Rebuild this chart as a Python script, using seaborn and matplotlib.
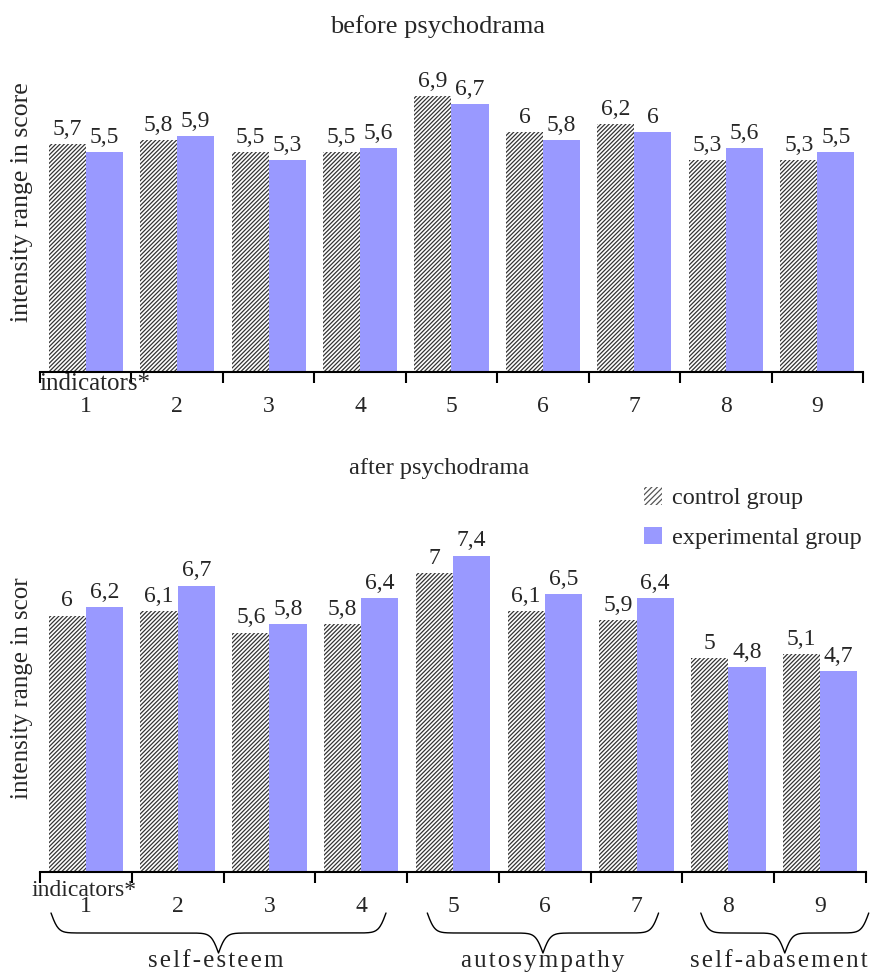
import numpy as np
import pandas as pd
import matplotlib
matplotlib.use("Agg")
import matplotlib.pyplot as plt
import matplotlib.patches as mpatches
from matplotlib.transforms import blended_transform_factory
import seaborn as sns

# data
indicators = ["1", "2", "3", "4", "5", "6", "7", "8", "9"]
groups = ["control group", "experimental group"]
before_control = [5.7, 5.8, 5.5, 5.5, 6.9, 6.0, 6.2, 5.3, 5.3]
before_experimental = [5.5, 5.9, 5.3, 5.6, 6.7, 5.8, 6.0, 5.6, 5.5]
after_control = [6.0, 6.1, 5.6, 5.8, 7.0, 6.1, 5.9, 5.0, 5.1]
after_experimental = [6.2, 6.7, 5.8, 6.4, 7.4, 6.5, 6.4, 4.8, 4.7]
scale_names = ["self-esteem", "autosympathy", "self-abasement"]

BLUE = "#9999ff"
HATCH = "////////"
W, H = 873, 973

sns.set_style("white")
plt.rcParams["font.family"] = ["Liberation Serif", "DejaVu Serif"]
plt.rcParams["hatch.linewidth"] = 0.9
plt.rcParams["hatch.color"] = "#333333"


def px(x, y):
    """pixel position -> figure fraction"""
    return x / W, 1 - y / H


def fmt(v):
    return f"{v:g}".replace(".", ",")


def draw_bars(ax, control, experimental, ylim):
    df = pd.DataFrame({
        "indicator": indicators * 2,
        "score": control + experimental,
        "group": [groups[0]] * 9 + [groups[1]] * 9,
    })
    sns.barplot(data=df, x="indicator", y="score", hue="group", order=indicators,
                hue_order=groups, palette=["white", BLUE], saturation=1,
                width=0.81, legend=False, ax=ax)
    for bar in ax.containers[0]:
        bar.set_hatch(HATCH)
        bar.set_edgecolor("#333333")
        bar.set_linewidth(0)
    for bar in ax.containers[1]:
        bar.set_linewidth(0)
    ax.bar_label(ax.containers[0], labels=[fmt(v) for v in control], padding=3, fontsize=17)
    ax.bar_label(ax.containers[1], labels=[fmt(v) for v in experimental], padding=3, fontsize=17)

    ax.set_xlim(-0.5, 8.5)
    ax.set_ylim(*ylim)
    ax.set_yticks([])
    ax.set_xlabel("")
    ax.set_ylabel("")
    for side in ["left", "right", "top"]:
        ax.spines[side].set_visible(False)
    ax.spines["bottom"].set_linewidth(1.5)
    ax.spines["bottom"].set_color("black")
    ax.set_xticks(range(9))
    ax.set_xticklabels(indicators, fontsize=17)
    ax.set_xticks(np.arange(-0.5, 9.0, 1.0), minor=True)
    ax.tick_params(axis="x", which="major", length=0, pad=17)
    ax.tick_params(axis="x", which="minor", length=8, width=1.5, direction="out",
                   color="black", bottom=True)


def draw_brace(ax, x0, x1, label, xtext):
    trans = blended_transform_factory(ax.transData, ax.figure.transFigure)
    n = 401
    beta = 25.0
    x = np.linspace(x0, x1, n)
    half = x[: n // 2 + 1]
    yh = 1 / (1 + np.exp(-beta * (half - half[0]))) + 1 / (1 + np.exp(-beta * (half - half[-1])))
    yb = np.concatenate((yh, yh[-2::-1]))
    ypix = 913 + (yb - 0.5) * 40
    ax.plot(x, 1 - ypix / H, color="black", lw=1.0, transform=trans, clip_on=False)
    ax.text(xtext, 1 - 961 / H, "\u200a".join(label), ha="center", va="center",
            fontsize=18, transform=trans)


fig = plt.figure(figsize=(W / 100, H / 100), dpi=100)

ax1 = fig.add_axes([40 / W, 1 - 372 / H, 823 / W, 320 / H])
draw_bars(ax1, before_control, before_experimental, (0, 8))

ax2 = fig.add_axes([40 / W, 1 - 872 / H, 826 / W, 342 / H])
draw_bars(ax2, after_control, after_experimental, (0, 8))

fig.text(*px(438, 27), "before psychodrama", ha="center", va="center", fontsize=19)
fig.text(*px(439, 468), "after psychodrama", ha="center", va="center", fontsize=17.5)

fig.text(*px(22, 202), "intensity range in score", rotation=90,
         ha="center", va="center", fontsize=18.5)
fig.text(*px(22, 688), "intensity range in scor", rotation=90,
         ha="center", va="center", fontsize=18)

fig.text(*px(39, 384), "indicators*", ha="left", va="center", fontsize=18)
fig.text(*px(32, 891), "indicators*", ha="left", va="center", fontsize=17)

handles = [
    mpatches.Patch(facecolor="white", edgecolor="#555555", hatch="//////", linewidth=0),
    mpatches.Patch(facecolor=BLUE, linewidth=0),
]
fig.legend(handles, groups, loc="upper left", bbox_to_anchor=px(634, 477),
           frameon=False, fontsize=17.5, handlelength=0.75, handleheight=0.75,
           handletextpad=0.4, labelspacing=0.72, borderaxespad=0)

brace_spans = [(-0.38, 3.27), (3.72, 6.24), (6.7, 8.53)]
label_x = [1.42, 4.98, 7.55]
for (b0, b1), name, lx in zip(brace_spans, scale_names, label_x):
    draw_brace(ax2, b0, b1, name, lx)

fig.savefig("out.png", dpi=100)
